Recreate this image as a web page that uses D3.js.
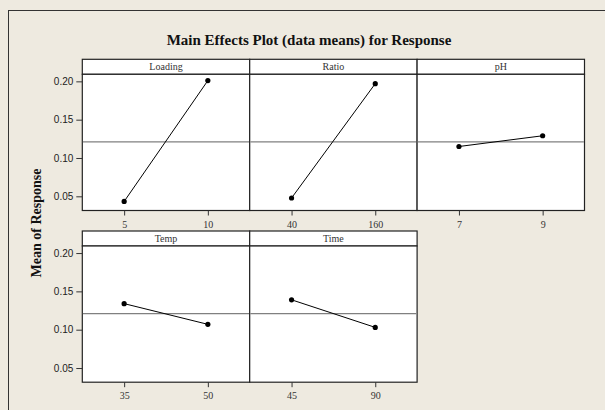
<!DOCTYPE html>
<html>
<head>
<meta charset="utf-8">
<script src="https://cdn.jsdelivr.net/npm/d3@7"></script>
<style>
  html, body { margin: 0; padding: 0; background: #eeeae0; }
  svg { display: block; }
</style>
</head>
<body>
<div id="chart"></div>
<script>
// factors and their two levels
const factors = ['Loading', 'Ratio', 'pH', 'Temp', 'Time']
const levels = [['5', '10'], ['40', '160'], ['7', '9'], ['35', '50'], ['45', '90']]
// mean response at each level
const means = [[0.0433, 0.201], [0.0478, 0.197], [0.115, 0.129], [0.134, 0.107], [0.139, 0.103]]
const grandMean = 0.121
const yTicks = [0.05, 0.10, 0.15, 0.20]

const width = 605
const height = 410

const svg = d3.select('#chart')
  .append('svg')
  .attr('width', width)
  .attr('height', height)

// background + frame
svg.append('rect')
  .attr('width', width)
  .attr('height', height)
  .attr('fill', '#eeeae0')

svg.append('rect')
  .attr('x', 8.5)
  .attr('y', 10.5)
  .attr('width', width + 20)
  .attr('height', height + 20)
  .attr('fill', 'none')
  .attr('stroke', '#333')
  .attr('stroke-width', 1)

// title
svg.append('text')
  .attr('x', 309)
  .attr('y', 45)
  .attr('text-anchor', 'middle')
  .attr('font-family', '"Liberation Serif", "Times New Roman", serif')
  .attr('font-weight', 'bold')
  .attr('font-size', '15px')
  .attr('fill', '#111')
  .text('Main Effects Plot (data means) for Response')

// y axis title
svg.append('text')
  .attr('transform', 'translate(40.5, 223) rotate(-90)')
  .attr('text-anchor', 'middle')
  .attr('font-family', '"Liberation Serif", "Times New Roman", serif')
  .attr('font-weight', 'bold')
  .attr('font-size', '14px')
  .attr('fill', '#111')
  .text('Mean of Response')

// panel grid
const col = d3.scaleBand().domain([0, 1, 2]).range([82.3, 584.5]).paddingInner(0)
const rowTop = [59.3, 231]
const stripH = 15
const panelH = 136.2
const yDomain = [0.0315, 0.2092]

factors.forEach((name, i) => {
  const c = i % 3
  const r = Math.floor(i / 3)
  const x0 = col(c)
  const w = col.bandwidth()
  const top = rowTop[r] + stripH

  const g = svg.append('g').attr('transform', `translate(${x0},0)`)

  const x = d3.scalePoint()
    .domain(levels[i])
    .range([0, w])
    .padding(0.5)

  const y = d3.scaleLinear()
    .domain(yDomain)
    .range([top + panelH, top])

  // strip
  g.append('rect')
    .attr('x', 0)
    .attr('y', rowTop[r])
    .attr('width', w)
    .attr('height', stripH)
    .attr('fill', '#fff')
    .attr('stroke', '#222')
    .attr('stroke-width', 1.2)

  g.append('text')
    .attr('x', w / 2)
    .attr('y', rowTop[r] + 11)
    .attr('text-anchor', 'middle')
    .attr('font-family', '"Liberation Serif", "Times New Roman", serif')
    .attr('font-size', '10px')
    .attr('fill', '#333')
    .text(name)

  // panel body
  g.append('rect')
    .attr('x', 0)
    .attr('y', top)
    .attr('width', w)
    .attr('height', panelH)
    .attr('fill', '#fff')
    .attr('stroke', '#222')
    .attr('stroke-width', 1.2)

  // reference line at grand mean
  g.append('line')
    .attr('x1', 0.6)
    .attr('x2', w - 0.6)
    .attr('y1', y(grandMean))
    .attr('y2', y(grandMean))
    .attr('stroke', '#808080')
    .attr('stroke-width', 1.2)

  // x axis
  const xAxis = g.append('g')
    .attr('transform', `translate(0,${top + panelH})`)
    .call(d3.axisBottom(x).tickSize(5).tickSizeOuter(0))
  xAxis.select('.domain').remove()
  xAxis.selectAll('line').attr('stroke', '#333')
  xAxis.selectAll('text')
    .attr('dy', '0')
    .attr('y', 17)
    .attr('font-family', '"Liberation Serif", "Times New Roman", serif')
    .attr('font-size', '10px')
    .attr('fill', '#333')

  // y axis on first column
  if (c === 0) {
    const yAxis = g.append('g')
      .call(d3.axisLeft(y).tickValues(yTicks).tickFormat(d3.format('.2f')).tickSize(6).tickSizeOuter(0))
    yAxis.select('.domain').remove()
    yAxis.selectAll('line').attr('stroke', '#333')
    yAxis.selectAll('text')
      .attr('x', -9)
      .attr('font-family', '"Liberation Sans", Arial, sans-serif')
      .attr('font-size', '10px')
      .attr('fill', '#222')
  }

  // effect line + points
  const pts = levels[i].map((lv, k) => ({ lv, v: means[i][k] }))
  g.append('path')
    .datum(pts)
    .attr('fill', 'none')
    .attr('stroke', '#000')
    .attr('stroke-width', 1)
    .attr('d', d3.line().x(d => x(d.lv)).y(d => y(d.v)))

  g.selectAll('circle')
    .data(pts)
    .join('circle')
    .attr('cx', d => x(d.lv))
    .attr('cy', d => y(d.v))
    .attr('r', 2.6)
    .attr('fill', '#000')
})
</script>
</body>
</html>
